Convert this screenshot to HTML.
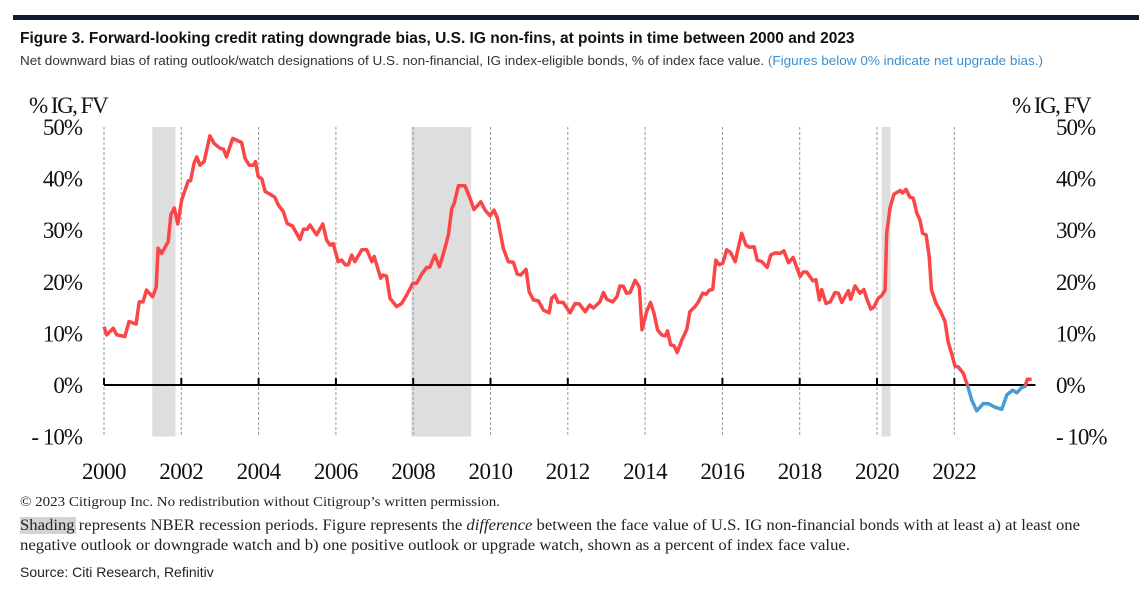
<!DOCTYPE html>
<html><head><meta charset="utf-8"><style>
html,body{margin:0;padding:0;background:#fff;}
body{width:1139px;height:610px;overflow:hidden;position:relative;}
svg{position:absolute;left:0;top:0;}
</style></head><body>
<svg width="1139" height="610" viewBox="0 0 1139 610" xmlns="http://www.w3.org/2000/svg">
<rect x="13" y="15" width="1126" height="5" fill="#141a33"/>
<text x="20" y="43" font-family="Liberation Sans, sans-serif" font-size="15.5" font-weight="bold" fill="#111">Figure 3. Forward-looking credit rating downgrade bias, U.S. IG non-fins, at points in time between 2000 and 2023</text>
<text x="20" y="65" font-family="Liberation Sans, sans-serif" font-size="12.5" fill="#333" textLength="1023" lengthAdjust="spacingAndGlyphs">Net downward bias of rating outlook/watch designations of U.S. non-financial, IG index-eligible bonds, % of index face value. <tspan fill="#3b8fcf">(Figures below 0% indicate net upgrade bias.)</tspan></text>
<g id="plot"></g>
<text x="29" y="113" font-family="Liberation Serif, serif" font-size="23" letter-spacing="-1.5" fill="#111">% IG, FV</text>
<text x="1012" y="113" font-family="Liberation Serif, serif" font-size="23" letter-spacing="-1.5" fill="#111">% IG, FV</text>
<text x="20" y="506" font-family="Liberation Serif, serif" font-size="14" fill="#222" textLength="480" lengthAdjust="spacingAndGlyphs">© 2023 Citigroup Inc. No redistribution without Citigroup’s written permission.</text>
<rect x="20" y="517" width="56" height="17" fill="#d4d4d4"/>
<text x="20" y="530" font-family="Liberation Serif, serif" font-size="16" fill="#222" textLength="1060" lengthAdjust="spacingAndGlyphs">Shading represents NBER recession periods. Figure represents the <tspan font-style="italic">difference</tspan> between the face value of U.S. IG non-financial bonds with at least a) at least one</text>
<text x="20" y="550" font-family="Liberation Serif, serif" font-size="16" fill="#222" textLength="830" lengthAdjust="spacingAndGlyphs">negative outlook or downgrade watch and b) one positive outlook or upgrade watch, shown as a percent of index face value.</text>
<text x="20" y="577" font-family="Liberation Sans Narrow, Liberation Sans, sans-serif" font-size="14" fill="#222">Source: Citi Research, Refinitiv</text>
</svg>
<script>
const years = [0,.07,.24,.33,.54,.65,.83,.91,1.01,1.10,1.26,1.35,1.40,1.49,1.66,1.73,1.82,1.91,2.01,2.18,2.24,2.33,2.40,2.48,2.59,2.74,2.85,3.00,3.09,3.17,3.33,3.47,3.56,3.65,3.76,3.86,3.92,3.99,4.08,4.17,4.29,4.42,4.51,4.64,4.74,4.88,5.07,5.16,5.26,5.33,5.50,5.66,5.76,5.85,5.93,6.06,6.15,6.24,6.32,6.41,6.49,6.67,6.80,6.93,6.99,7.16,7.21,7.31,7.40,7.57,7.70,7.83,7.99,8.09,8.22,8.35,8.43,8.56,8.68,8.82,8.91,9.00,9.06,9.17,9.34,9.47,9.57,9.75,9.86,9.99,10.09,10.18,10.33,10.46,10.59,10.69,10.78,10.92,11.00,11.11,11.24,11.37,11.52,11.58,11.67,11.75,11.88,12.06,12.19,12.30,12.45,12.57,12.66,12.83,12.92,13.01,13.16,13.27,13.35,13.44,13.52,13.61,13.74,13.85,13.92,14.04,14.14,14.23,14.32,14.43,14.52,14.58,14.66,14.75,14.83,14.95,15.08,15.16,15.29,15.38,15.49,15.58,15.66,15.75,15.83,15.92,16.01,16.11,16.21,16.33,16.41,16.50,16.61,16.70,16.82,16.90,17.02,17.16,17.25,17.36,17.49,17.59,17.71,17.83,18.01,18.09,18.18,18.34,18.42,18.51,18.57,18.68,18.79,18.91,19.00,19.09,19.26,19.32,19.43,19.56,19.66,19.73,19.84,19.92,20.03,20.12,20.21,20.25,20.34,20.44,20.60,20.66,20.75,20.85,20.94,21.03,21.11,21.18,21.27,21.35,21.41,21.53,21.63,21.76,21.84,21.93,22.02,22.10,22.23,22.34,22.45,22.58,22.75,22.88,23.05,23.23,23.36,23.51,23.62,23.74,23.83,23.89,24.00];
const values = [11.3,9.7,11,9.7,9.4,12.3,11.8,16.1,16.1,18.4,17.1,19,26.5,25.5,27.8,33,34.3,31.2,35.9,39.6,39.6,43,44.2,42.6,43.3,48.3,46.8,45.9,45.7,44.2,47.8,47.3,47,43.9,42.6,42.6,43.3,40.4,40,37.5,37,36.4,34.9,33.6,31.3,30.8,28.2,30.2,30.2,31,29.1,31.2,28.1,27.1,27.4,23.9,24.2,23.3,23.3,25.2,23.9,26.2,26.2,23.9,24.9,20.7,21.3,21.1,16.8,15.2,15.8,17.4,19.7,19.7,21.5,22.8,22.8,25.2,22.9,26.5,29.1,34.2,35.2,38.6,38.6,36.2,34,35.5,33.9,32.8,33.9,32.3,26.5,23.9,23.8,21.5,21.3,22.4,18.1,16.5,16.3,14.5,14,16.8,17.4,16,16,14,15.8,15.7,14.2,15.5,14.9,16.1,17.9,16.6,16.1,17.1,19.2,19.1,17.8,17.9,20.3,19,10.7,14.2,16,13.9,10.7,9.7,9.5,10.5,7.8,7.6,6.3,8.7,10.8,14.2,15.2,16.1,17.8,17.6,18.4,18.5,24.2,23.3,23.6,26.2,25.7,23.9,26.5,29.4,27.1,26.7,26.8,24.2,23.9,22.8,25.2,25.6,25.5,26,23.7,24.7,21,21.9,21.9,20.2,20.4,16.5,18.5,15.8,16.1,17.9,17.8,16,18.3,16.6,19.2,17.8,18.5,16.8,14.7,15.1,16.8,17.3,18.4,29.4,34.4,37,37.7,37.2,37.9,36.4,36.2,33.3,32,29.4,29.1,24.9,18.4,15.8,14.5,12.3,8.4,6.1,3.6,3.5,2.3,0,-2.9,-5,-3.6,-3.6,-4.3,-4.7,-1.9,-1,-1.5,-0.5,-0.3,1.1,1.1];
const recessions = [[2001.25,2001.85],[2007.95,2009.5],[2020.12,2020.35]];
const yTicks = [50,40,30,20,10,0,-10];
const yTickLabels = ["50%","40%","30%","20%","10%","0%","- 10%"];
const xTicks = [2000,2002,2004,2006,2008,2010,2012,2014,2016,2018,2020,2022];
const xTickLabels = ["2000","2002","2004","2006","2008","2010","2012","2014","2016","2018","2020","2022"];

const NS = "http://www.w3.org/2000/svg";
const X = yr => 104 + (yr - 2000) * 38.65;
const Y = v => 385 - v * 5.16;
const g = document.getElementById('plot');
function mk(tag, attrs, parent){ const e=document.createElementNS(NS,tag); for(const k in attrs) e.setAttribute(k, attrs[k]); (parent||g).appendChild(e); return e; }

recessions.forEach(r => {
  const e = mk('rect',{x:X(r[0]),y:Y(50),width:X(r[1])-X(r[0]),height:Y(-10)-Y(50),fill:'#dedede'});
  
  
});
xTicks.forEach((t,i) => {
  const gl = mk('line',{x1:X(t),x2:X(t),y1:Y(50),y2:Y(-10),stroke:'#999','stroke-width':1,'stroke-dasharray':'3,2'});
  
  
  const tk = mk('line',{x1:X(t),x2:X(t),y1:Y(0)-7,y2:Y(0),stroke:'#000','stroke-width':2});
  
  
  const lb = mk('text',{x:X(t),y:479,'text-anchor':'middle','font-family':'Liberation Serif, serif','font-size':23,'letter-spacing':'-0.5',fill:'#111'});
  lb.textContent = xTickLabels[i];
  
  
});
yTicks.forEach((t,i) => {
  const l = mk('text',{x:82,y:Y(t)+8,'text-anchor':'end','font-family':'Liberation Serif, serif','font-size':23,'letter-spacing':'-1',fill:'#111'});
  l.textContent = yTickLabels[i];
  
  
  const r = mk('text',{x:1056,y:Y(t)+8,'font-family':'Liberation Serif, serif','font-size':23,'letter-spacing':'-1',fill:'#111'});
  r.textContent = yTickLabels[i];
  
  
});
const zl = mk('line',{x1:X(2000),x2:X(2024.1),y1:Y(0),y2:Y(0),stroke:'#000','stroke-width':2});



const defs = mk('defs',{});
const c1 = mk('clipPath',{id:'above'},defs); mk('rect',{x:0,y:0,width:1139,height:Y(0)},c1);
const c2 = mk('clipPath',{id:'below'},defs); mk('rect',{x:0,y:Y(0),width:1139,height:300},c2);
const d = years.map((yr,i)=>(i?'L':'M')+X(2000+yr).toFixed(1)+','+Y(values[i]).toFixed(1)).join(' ');
const pr = mk('path',{d:d,fill:'none',stroke:'#fa4646','stroke-width':3.5,'stroke-linejoin':'round','clip-path':'url(#above)'});


const pb = mk('path',{d:d,fill:'none',stroke:'#4a9bd4','stroke-width':3.5,'stroke-linejoin':'round','clip-path':'url(#below)'});


</script>
</body></html>
